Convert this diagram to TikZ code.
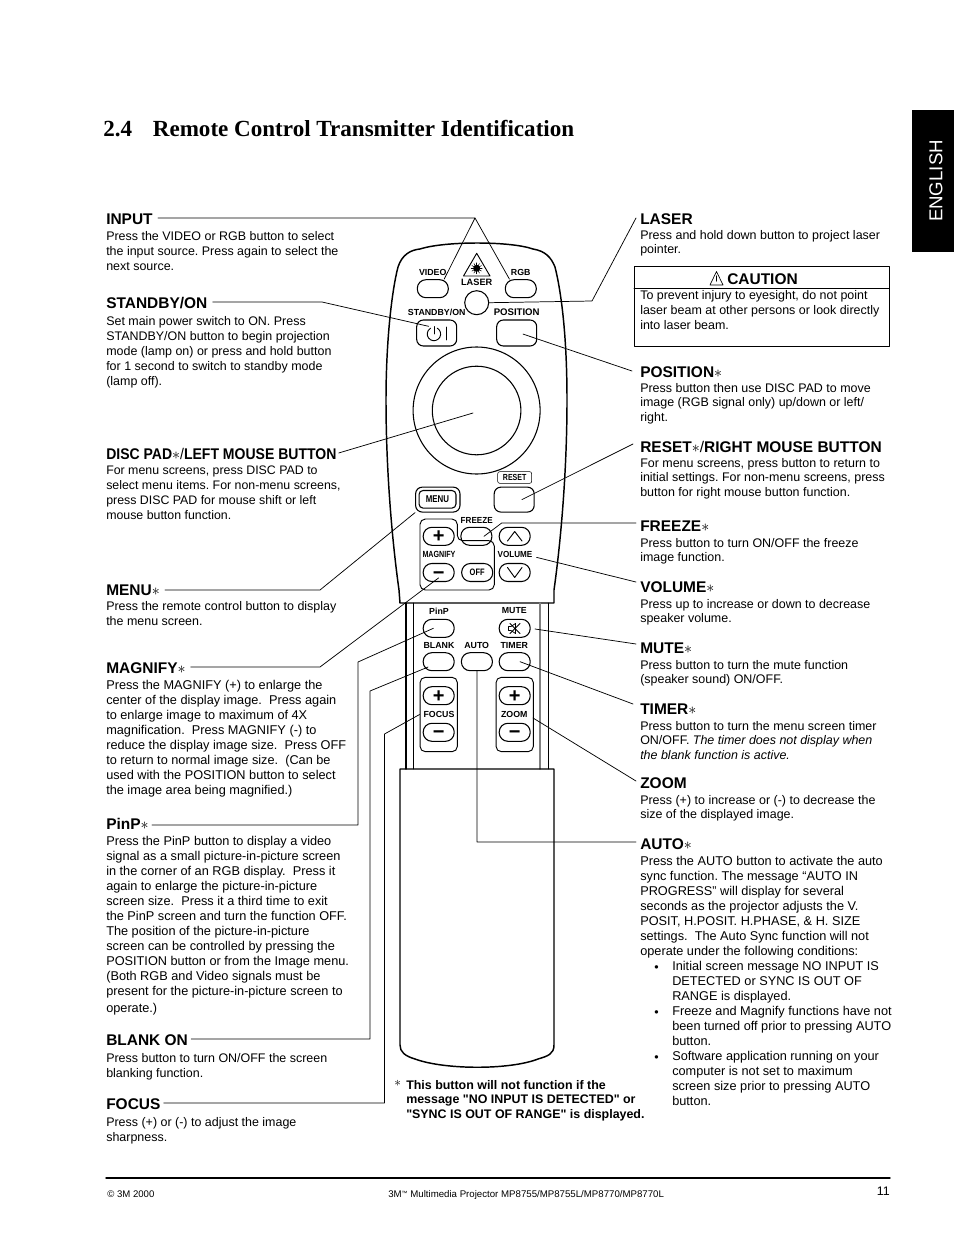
\documentclass[tikz,border=0pt]{standalone}
\usepackage{fontspec}
\setmainfont{Liberation Sans}
\newfontfamily\titlefont{Liberation Serif}
\newfontfamily\condfont[FakeStretch=0.8]{Liberation Sans}
\newfontfamily\midfont[FakeStretch=0.92]{Liberation Sans}
\newfontfamily\discfont[FakeStretch=0.906]{Liberation Sans}
\newcommand{\keysign}[1]{\raisebox{-5pt}[0pt][0pt]{#1}}
\frenchspacing
\tikzset{
	head/.style={anchor=west, inner sep=0pt, font=\fontsize{11.6}{13}\selectfont\bfseries},
	txt/.style={anchor=north west, inner sep=0pt, align=left, font=\fontsize{9.35}{11.25}\selectfont},
	wtxt/.style={anchor=north west, inner sep=0pt, align=left, font=\fontsize{9.55}{11.25}\selectfont},
	rtxt/.style={anchor=north west, inner sep=0pt, align=left, font=\fontsize{9.35}{11}\selectfont},
	btn/.style={draw, line width=0.8pt, rounded corners=6.5pt, minimum width=23.25pt, minimum height=13.5pt, inner sep=0pt},
	keypad/.style={draw, line width=0.8pt, rounded corners=5pt, minimum width=30pt, minimum height=19.5pt, inner sep=0pt},
	lbl/.style={inner sep=0pt, font=\fontsize{6.6}{7}\selectfont\bfseries},
	lblm/.style={inner sep=0pt, font=\fontsize{6.6}{7}\selectfont\midfont\bfseries},
	sign/.style={font=\fontsize{15}{15}\selectfont\bfseries},
	lead/.style={line width=0.55pt},
	shell/.style={line width=1.1pt},
}
\begin{document}
\begin{tikzpicture}[line cap=round, line join=round, x=0.75pt, y=-0.75pt]
	\useasboundingbox (0,0) rectangle (954,1235);
	
	% Page title and side tab
	\node[anchor=base west, inner sep=0pt, font=\fontsize{17.3}{20}\selectfont\titlefont\bfseries] (title) at (103,136) {2.4\hspace{15.6pt}Remote Control Transmitter Identification};
	\fill[black] (912,110) rectangle (954,252);
	\node[rotate=90, text=white, inner sep=0pt, font=\fontsize{14}{16}\selectfont] (english) at (936,181) {ENGLISH};
	
	% Remote control outline
	\draw[shell] (400,603) -- (399,590) .. controls (392,540) and (386,470) .. (386,400)
		.. controls (386,340) and (392,290) .. (398,267) .. controls (402,255) and (410,250) .. (420,249)
		.. controls (445,241) and (510,241) .. (533,249) .. controls (545,251) and (551,257) .. (555,267)
		.. controls (562,295) and (567,340) .. (567,400) .. controls (567,470) and (561,540) .. (554,590)
		-- (554,603) -- cycle;
	\draw[shell] (406,603) -- (406,769);
	\draw (413,603) -- (413,769);
	\draw[line width=1.1pt, gray] (540,603) -- (540,769);
	\draw (548,603) -- (548,769);
	\draw[shell] (400,769) -- (554,769) -- (554,1045) .. controls (554,1054) and (548,1056) .. (538,1059)
		.. controls (510,1070) and (445,1070) .. (415,1059) .. controls (405,1056) and (400,1052) .. (400,1045) -- cycle;
	
	% Disc pad
	\draw[line width=0.8pt] (476.6,410.5) circle (63.5);
	\draw[line width=0.8pt] (476.6,410.5) circle (44.3);
	
	% Upper buttons
	\node[btn] (video) at (432.8,288.7) {};
	\node[btn] (rgb) at (520.8,288.7) {};
	\node[draw, circle, line width=0.8pt, minimum size=18pt, inner sep=0pt] (laserbtn) at (476.7,302.7) {};
	\node[btn, minimum width=30pt, minimum height=19.5pt, rounded corners=5pt] (standby) at (436.7,333) {};
	\node[keypad] (posbtn) at (516.7,333) {};
	\node[keypad, minimum height=18.7pt] (resetbtn) at (514.2,499.6) {};
	\node[keypad, minimum width=33.3pt, minimum height=18.7pt] (menuout) at (437.8,499.6) {};
	\node[draw, rounded corners=3pt, line width=0.8pt, minimum width=27.7pt, minimum height=13.2pt, inner sep=0pt, font=\fontsize{7.4}{8}\selectfont\condfont\bfseries] (menubtn) at (437.5,499.3) {MENU};
	\node[draw, rounded corners=1.5pt, minimum width=25.5pt, minimum height=8.7pt, inner sep=0pt, font=\fontsize{6.6}{7}\selectfont\condfont\bfseries] (resetlbl) at (514.7,477.5) {RESET};
	
	% Power symbol and laser mark
	\draw[line width=0.7pt] (437.3,328.2) arc (-60:240:6.7);
	\draw[line width=0.7pt] (434,326.7) -- (434,334);
	\draw[line width=0.7pt] (446.7,327) -- (446.7,340);
	\draw[line width=0.7pt] (476.7,253.3) -- (490,276) -- (463.5,276) -- cycle;
	\fill (476.7,268.3) circle (3.5);
	\foreach \a in {0,30,...,330} \draw[line width=0.4pt] (476.7,268.3) -- ++(\a:5.5);
	
	% Magnify and volume group
	\draw[line width=0.7pt, rounded corners=4pt] (420,519) -- (457.3,519) -- (457.3,540.7) -- (494.3,540.7) -- (494.3,590) -- (420,590) -- cycle;
	\node[btn, sign] (magplus) at (438.7,536.3) {\keysign{+}};
	\node[btn] (freeze) at (476.4,536.3) {};
	\node[btn] (volup) at (514.7,536.3) {};
	\node[btn, sign] (magminus) at (438.7,572.5) {\keysign{−}};
	\node[btn, font=\fontsize{7}{8}\selectfont\condfont\bfseries] (magoff) at (477.2,572.5) {OFF};
	\node[btn] (voldown) at (514.7,572.5) {};
	\draw[line width=0.7pt] (507.5,541) -- (514.7,531.5) -- (522,541);
	\draw[line width=0.7pt] (507.5,567.5) -- (514.7,577.5) -- (522,567.5);
	
	% Lower buttons
	\node[btn] (pinpbtn) at (438.7,628.3) {};
	\node[btn] (mutebtn) at (514.7,628.3) {};
	\node[btn] (blank) at (438.7,661.7) {};
	\node[btn] (auto) at (476.9,661.7) {};
	\node[btn] (timer) at (514.7,661.7) {};
	\node[draw, line width=0.7pt, rounded corners=4pt, minimum width=28pt, minimum height=55.8pt, inner sep=0pt] (focusgrp) at (438.7,714.5) {};
	\node[draw, line width=0.7pt, rounded corners=4pt, minimum width=28pt, minimum height=55.8pt, inner sep=0pt] (zoomgrp) at (514.7,714.5) {};
	\node[btn, sign] (focplus) at (438.7,695.7) {\keysign{+}};
	\node[btn, sign] (focminus) at (438.7,732.3) {\keysign{−}};
	\node[btn, sign] (zoomplus) at (514.7,695.7) {\keysign{+}};
	\node[btn, sign] (zoomminus) at (514.7,732.3) {\keysign{−}};
	
	% Mute icon
	\draw[line width=0.6pt] (508.5,626.5) -- (511,626.5) -- (515.5,623.5) -- (515.5,633.5) -- (511,630.5) -- (508.5,630.5) -- cycle;
	\draw[line width=0.6pt] (510,623.5) -- (520,633.5) (520,623.5) -- (510,633.5);
	
	% Labels on the remote
	\node[lbl] (lvideo) at (432.7,272) {VIDEO};
	\node[lbl] (lrgb) at (520.7,272) {RGB};
	\node[lbl, font=\fontsize{6.9}{7}\selectfont\bfseries] (llaser) at (476.7,282) {LASER};
	\node[lbl] (lstandby) at (436.7,312) {STANDBY/ON};
	\node[lbl, font=\fontsize{7.2}{8}\selectfont\bfseries] (lposition) at (516.7,312) {POSITION};
	\node[lblm] (lfreeze) at (476.7,520.7) {FREEZE};
	\node[lbl, font=\fontsize{6.7}{7}\selectfont\condfont\bfseries] (lmagnify) at (439,554) {MAGNIFY};
	\node[lblm] (lvolume) at (515,554) {VOLUME};
	\node[lbl] (lpinp) at (439,611) {PinP};
	\node[lbl] (lmute) at (514.3,611) {MUTE};
	\node[lbl] (lblank) at (439,645) {BLANK};
	\node[lbl] (lauto) at (476.7,645) {AUTO};
	\node[lbl] (ltimer) at (514.3,645) {TIMER};
	\node[lbl] (lfocus) at (439,714.5) {FOCUS};
	\node[lbl] (lzoom) at (514.3,714.5) {ZOOM};
	
	% Left column
	\node[head] (input) at (106,219) {INPUT};
	\node[txt] (inputtxt) at (106,231) {Press the VIDEO or RGB button to select\\the input source. Press again to select the\\next source.};
	\node[head] (standbyh) at (106,303) {STANDBY/ON};
	\node[txt] (standbytxt) at (106,316) {Set main power switch to ON. Press\\STANDBY/ON button to begin projection\\mode (lamp on) or press and hold button\\for 1 second to switch to standby mode\\(lamp off).};
	\node[head, font=\fontsize{11.6}{13}\selectfont\discfont\bfseries] (disc) at (106,454) {DISC PAD{\mdseries$\ast$/}LEFT MOUSE BUTTON};
	\node[txt, font=\fontsize{9.27}{11.25}\selectfont] (disctxt) at (106,466) {For menu screens, press DISC PAD to\\select menu items. For non-menu screens,\\press DISC PAD for mouse shift or left\\mouse button function.};
	\node[head] (menu) at (106,590) {MENU{\mdseries$\ast$}};
	\node[txt] (menutxt) at (106,601) {Press the remote control button to display\\the menu screen.};
	\node[head] (magnify) at (106,668) {MAGNIFY{\mdseries$\ast$}};
	\node[wtxt] (magnifytxt) at (106,680) {Press the MAGNIFY (+) to enlarge the\\center of the display image.\ \ Press again\\to enlarge image to maximum of 4X\\magnification.\ \ Press MAGNIFY (-) to\\reduce the display image size.\ \ Press OFF\\to return to normal image size.\ \ (Can be\\used with the POSITION button to select\\the image area being magnified.)};
	\node[head] (pinp) at (106,824) {PinP{\mdseries$\ast$}};
	\node[wtxt] (pinptxt) at (106,836) {Press the PinP button to display a video\\signal as a small picture-in-picture screen\\in the corner of an RGB display.\ \ Press it\\again to enlarge the picture-in-picture\\screen size.\ \ Press it a third time to exit\\the PinP screen and turn the function OFF.\\The position of the picture-in-picture\\screen can be controlled by pressing the\\POSITION button or from the Image menu.\\(Both RGB and Video signals must be\\present for the picture-in-picture screen to\\[1.5pt]operate.)};
	\node[head] (blankh) at (106,1040) {BLANK ON};
	\node[txt] (blanktxt) at (106,1053) {Press button to turn ON/OFF the screen\\blanking function.};
	\node[head] (focus) at (106,1104) {FOCUS};
	\node[txt] (focustxt) at (106,1117) {Press (+) or (-) to adjust the image\\sharpness.};
	
	% Right column
	\node[head] (laser) at (640,219) {LASER};
	\node[rtxt] (lasertxt) at (640,230) {Press and hold down button to project laser\\pointer.};
	\draw[line width=0.7pt] (634,266) rectangle (889,346);
	\draw[line width=0.6pt] (634,288) -- (889,288);
	\node[head] (caution) at (727,279) {CAUTION};
	\draw[line width=0.5pt] (716.5,271.5) -- (723,285) -- (710,285) -- cycle;
	\draw[line width=0.9pt] (716.5,276) -- (716.5,281);
	\node[rtxt, font=\fontsize{9.35}{11.25}\selectfont] (cautiontxt) at (640,290) {To prevent injury to eyesight, do not point\\laser beam at other persons or look directly\\into laser beam.};
	\node[head] (position) at (640,372) {POSITION{\mdseries$\ast$}};
	\node[rtxt] (positiontxt) at (640,383) {Press button then use DISC PAD to move\\image (RGB signal only) up/down or left/\\right.};
	\node[head] (reset) at (640,447) {RESET{\mdseries$\ast$/}RIGHT MOUSE BUTTON};
	\node[rtxt] (resettxt) at (640,458) {For menu screens, press button to return to\\initial settings. For non-menu screens, press\\button for right mouse button function.};
	\node[head] (freezeh) at (640,526) {FREEZE{\mdseries$\ast$}};
	\node[rtxt] (freezetxt) at (640,538) {Press button to turn ON/OFF the freeze\\image function.};
	\node[head] (volume) at (640,587) {VOLUME{\mdseries$\ast$}};
	\node[rtxt] (volumetxt) at (640,599) {Press up to increase or down to decrease\\speaker volume.};
	\node[head] (mute) at (640,648) {MUTE{\mdseries$\ast$}};
	\node[rtxt] (mutetxt) at (640,660) {Press button to turn the mute function\\(speaker sound) ON/OFF.};
	\node[head] (timerh) at (640,709) {TIMER{\mdseries$\ast$}};
	\node[rtxt] (timertxt) at (640,721) {Press button to turn the menu screen timer\\ON/OFF. {\itshape The timer does not display when}\\{\itshape the blank function is active.}};
	\node[head] (zoom) at (640,783) {ZOOM};
	\node[rtxt] (zoomtxt) at (640,795) {Press (+) to increase or (-) to decrease the\\size of the displayed image.};
	\node[head] (autoh) at (640,844) {AUTO{\mdseries$\ast$}};
	\node[wtxt] (autotxt) at (640,856) {Press the AUTO button to activate the auto\\sync function. The message “AUTO IN\\PROGRESS” will display for several\\seconds as the projector adjusts the V.\\POSIT, H.POSIT. H.PHASE, \& H. SIZE\\settings.\ \ The Auto Sync function will not\\operate under the following conditions:};
	\node[wtxt] (autobul) at (672,961) {Initial screen message NO INPUT IS\\DETECTED or SYNC IS OUT OF\\RANGE is displayed.\\Freeze and Magnify functions have not\\been turned off prior to pressing AUTO\\button.\\Software application running on your\\computer is not set to maximum\\screen size prior to pressing AUTO\\button.};
	\node[rtxt] (bula) at (654,965) {•};
	\node[rtxt] (bulb) at (654,1010) {•};
	\node[rtxt] (bulc) at (654,1055) {•};
	
	% Footnote under the remote
	\node[anchor=north west, inner sep=0pt] (note) at (394,1080) {$\ast$};
	\node[rtxt, font=\fontsize{9.32}{10.8}\selectfont\bfseries] (notetxt) at (406,1080) {This button will not function if the\\message \textquotedbl NO INPUT IS DETECTED\textquotedbl{} or\\\textquotedbl SYNC IS OUT OF RANGE\textquotedbl{} is displayed.};
	
	% Leader lines
	\draw[lead] (input.east) ++(5,-1) -- (475,218) -- (video.40);
	\draw[lead] (475,218) -- (rgb.140);
	\draw[lead] (standbyh.east) ++(5,-1) -- (322,302) -- ([xshift=-6pt,yshift=5pt]standby.center);
	\draw[lead] (laser.west) ++(-4,-1) -- (592,301) -- (laserbtn.east);
	\draw[lead] (position.west) ++(-8,-1) -- ([xshift=4.7pt,yshift=-0.8pt]posbtn.center);
	\draw[lead] (disc.east) ++(2,-1) -- (473,413);
	\draw[lead] (reset.west) ++(-7,-3) -- ([xshift=5.8pt]resetbtn.center);
	\draw[lead] (freezeh.west) ++(-4,-3) -- (501.7,523) -- ([xshift=5.7pt]freeze.center);
	\draw[lead] (volume.west) ++(-4,-5) -- ([xshift=3pt]lvolume.south east);
	\draw[lead] (menu.east) ++(5,0) -- (320,590) -- (menuout.south west);
	\draw[lead] (magnify.east) ++(5,-1) -- (320,667) -- ([yshift=-4pt]magminus.center);
	\draw[lead] (pinp.east) ++(3,1) -- (358,825) -- (358,662) -- ([xshift=-4pt]pinpbtn.center);
	\draw[lead] (blankh.east) ++(3,-1) -- (370,1039) -- (370,691) -- ([xshift=-8pt,yshift=-4pt]blank.center);
	\draw[lead] (focus.east) ++(3,-1) -- (384.5,1103) -- (384.5,734) -- (focusgrp.west);
	\draw[lead] (mute.west) ++(-4,-4) -- (535,629);
	\draw[lead] (timerh.west) ++(-7,-5) -- ([xshift=4pt]timer.center);
	\draw[lead] (zoom.west) ++(-4,-2) -- (533,718);
	\draw[lead] (autoh.west) ++(-4,-2) -- (477,842) -- (auto.south);
	
	% Footer
	\draw[line width=1.1pt] (106,1178) -- (890,1178);
	\node[inner sep=0pt, anchor=base west, font=\fontsize{7.2}{8}\selectfont] (copyright) at (107,1197) {© 3M 2000};
	\node[inner sep=0pt, anchor=base west, font=\fontsize{7.25}{8}\selectfont] (product) at (388,1197) {3M\raisebox{1.5pt}{\fontsize{4.5}{5}\selectfont ™} Multimedia Projector MP8755/MP8755L/MP8770/MP8770L};
	\node[inner sep=0pt, anchor=base east, font=\fontsize{9.3}{10}\selectfont] (pageno) at (890,1195) {11};
\end{tikzpicture}
\end{document}
